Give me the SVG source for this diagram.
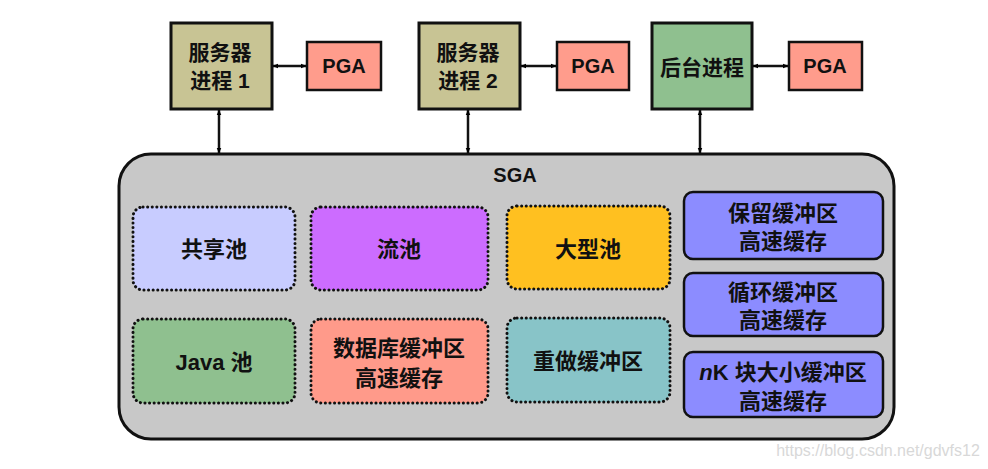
<svg xmlns="http://www.w3.org/2000/svg" width="988" height="469" viewBox="0 0 988 469">
<defs>
<marker id="ah" viewBox="0 0 10 10" refX="9" refY="5" markerWidth="6" markerHeight="6" orient="auto-start-reverse" markerUnits="userSpaceOnUse">
<path d="M0,1 L10,5 L0,9 z" fill="#000"/>
</marker>
<style>
text{font-family:"Liberation Sans","Noto Sans CJK SC",sans-serif;font-weight:bold;fill:#111;text-anchor:middle;dominant-baseline:central}
.t{font-size:20px}
.s{font-size:21px}
.b{font-size:22px}
.proc{stroke:#111;stroke-width:3}
.pga{fill:#ff9c8c;stroke:#111;stroke-width:2.5}
.dot{stroke:#111;stroke-width:3;stroke-dasharray:0.1 4.5;stroke-linecap:round}
.blue{fill:#8c8cff;stroke:#111;stroke-width:2.5}
.con{stroke:#111;stroke-width:2.5;fill:none;marker-start:url(#ah);marker-end:url(#ah)}
</style>
</defs>
<rect width="988" height="469" fill="#fff"/>
<g id="connectors">
<line class="con" x1="273" y1="66" x2="306" y2="66"/>
<line class="con" x1="521" y1="66" x2="556" y2="66"/>
<line class="con" x1="753" y1="66" x2="788" y2="66"/>
<line class="con" x1="219" y1="110" x2="219" y2="153"/>
<line class="con" x1="468" y1="110" x2="468" y2="153"/>
<line class="con" x1="700" y1="110" x2="700" y2="153"/>
</g>
<g id="sga">
<rect x="119" y="154" width="775" height="285" rx="32" fill="#c8c8c8" stroke="#111" stroke-width="3"/>
<text x="515" y="175" class="t">SGA</text>
</g>
<g id="server1">
<rect class="proc" x="171" y="23" width="101" height="86" fill="#c8c494"/>
<text x="220" y="52" class="s">服务器</text>
<text x="220" y="80" class="s">进程 1</text>
</g>
<g id="pga1"><rect class="pga" x="307" y="42" width="74" height="48"/><text x="344" y="66" class="t">PGA</text></g>
<g id="server2">
<rect class="proc" x="419" y="23" width="101" height="86" fill="#c8c494"/>
<text x="468" y="52" class="s">服务器</text>
<text x="468" y="80" class="s">进程 2</text>
</g>
<g id="pga2"><rect class="pga" x="557" y="42" width="72" height="48"/><text x="593" y="66" class="t">PGA</text></g>
<g id="bgproc">
<rect class="proc" x="652" y="23" width="100" height="86" fill="#8fc08f"/>
<text x="702" y="67" class="s">后台进程</text>
</g>
<g id="pga3"><rect class="pga" x="789" y="42" width="73" height="48"/><text x="825" y="66" class="t">PGA</text></g>
<g id="shared"><rect class="dot" x="133" y="207" width="162" height="83" rx="10" fill="#c8ccff"/><text x="214" y="249" class="b">共享池</text></g>
<g id="stream"><rect class="dot" x="311" y="207" width="177" height="83" rx="10" fill="#cc6cff"/><text x="399" y="249" class="b">流池</text></g>
<g id="large"><rect class="dot" x="507" y="206" width="163" height="83" rx="10" fill="#ffc020"/><text x="588" y="249" class="b">大型池</text></g>
<g id="java"><rect class="dot" x="133" y="319" width="162" height="84" rx="10" fill="#8fc08f"/><text x="214" y="362" class="b">Java 池</text></g>
<g id="dbcache"><rect class="dot" x="311" y="319" width="177" height="84" rx="10" fill="#ff9a8a"/><text x="399" y="348" class="b">数据库缓冲区</text><text x="399" y="378" class="b">高速缓存</text></g>
<g id="redo"><rect class="dot" x="507" y="318" width="163" height="84" rx="10" fill="#88c4c8"/><text x="588" y="361" class="b">重做缓冲区</text></g>
<g id="keep"><rect class="blue" x="684" y="192" width="199" height="67" rx="9"/><text x="783" y="213" class="b">保留缓冲区</text><text x="783" y="241" class="b">高速缓存</text></g>
<g id="recycle"><rect class="blue" x="684" y="273" width="199" height="63" rx="9"/><text x="783" y="292" class="b">循环缓冲区</text><text x="783" y="320" class="b">高速缓存</text></g>
<g id="nk"><rect class="blue" x="684" y="352" width="199" height="65" rx="9"/><text x="783" y="372" class="b"><tspan font-style="italic">n</tspan>K 块大小缓冲区</text><text x="783" y="401" class="b">高速缓存</text></g>
<text x="878" y="450" style="font-weight:normal;font-size:16px;fill:#d8d8d8">https://blog.csdn.net/gdvfs12</text>
</svg>
